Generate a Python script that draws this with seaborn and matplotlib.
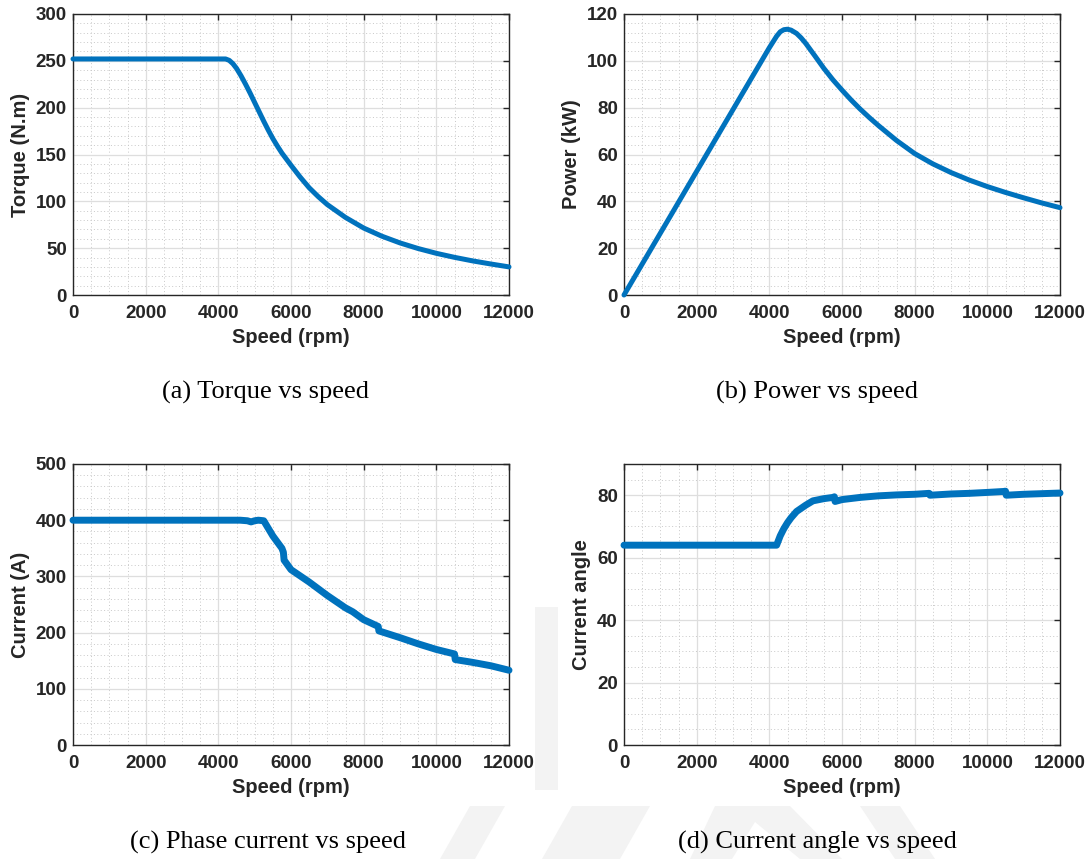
import matplotlib
matplotlib.use("Agg")
import matplotlib.pyplot as plt
from matplotlib.ticker import MultipleLocator
from matplotlib.patches import Polygon
import seaborn as sns

# ---- data -------------------------------------------------------------
speed_torque = [0, 1000, 2000, 3000, 4000, 4200, 4300, 4400, 4500, 4625, 4750,
                4875, 5000, 5125, 5250, 5375, 5500, 5625, 5750, 6000, 6250,
                6500, 6750, 7000, 7500, 8000, 8500, 9000, 9500, 10000, 10500,
                11000, 11500, 12000]
torque_nm = [252, 252, 252, 252, 252, 252, 250.5, 247, 242, 234, 225,
             215.5, 205.5, 195.5, 185.5, 176, 167, 159, 151.5, 138.5, 126,
             114.5, 105, 96.5, 82.8, 71.5, 62.8, 55.6, 49.6, 44.5, 40.2,
             36.4, 33.1, 30]

speed_power = [0, 1000, 2000, 3000, 4000, 4200, 4300, 4400, 4500, 4600, 4750,
               4875, 5000, 5250, 5500, 5750, 6000, 6250, 6500, 6750, 7000,
               7500, 8000, 8500, 9000, 9500, 10000, 10500, 11000, 11500, 12000]
power_kw = [0, 26.4, 52.8, 79.2, 105.6, 110.5, 112.4, 113.3, 113.5, 113.1, 111.7,
            109.8, 107.5, 102.2, 96.8, 91.9, 87.5, 83.3, 79.4, 75.8, 72.4,
            66.0, 60.4, 56.0, 52.3, 49.1, 46.3, 43.8, 41.5, 39.3, 37.3]

speed_current = [0, 2000, 4000, 4600, 4800, 4900, 5000, 5100, 5250, 5500, 5750,
                 5790, 5810, 6000, 6500, 7000, 7500, 7700, 8000, 8400, 8420,
                 9000, 9500, 10000, 10500, 10520, 11000, 11500, 12000]
current_a = [400, 400, 400, 400, 399, 397, 399, 400, 399, 372, 350,
             343, 329, 312, 290, 266, 244, 237, 223, 211, 203,
             191, 180, 170, 162, 152, 147, 141, 133]

speed_angle = [0, 2000, 4000, 4200, 4300, 4400, 4500, 4600, 4750, 5000, 5200,
               5500, 5750, 5790, 5810, 6000, 6500, 7000, 7500, 8000, 8400,
               8420, 9000, 9500, 10000, 10450, 10500, 10520, 11000, 11500, 12000]
angle_deg = [64, 64, 64, 64, 67, 69.3, 71.2, 72.8, 74.8, 76.8, 78.2,
             78.9, 79.3, 79.5, 78, 78.6, 79.3, 79.8, 80.1, 80.3, 80.6,
             80, 80.4, 80.6, 80.9, 81.2, 81.3, 80.0, 80.3, 80.5, 80.7]

captions = ["(a) Torque vs speed", "(b) Power vs speed",
            "(c) Phase current vs speed", "(d) Current angle vs speed"]
y_labels = ["Torque (N.m)", "Power (kW)", "Current (A)", "Current angle"]
x_label = "Speed (rpm)"
x_ticks = [0, 2000, 4000, 6000, 8000, 10000, 12000]

# ---- style ------------------------------------------------------------
sns.set_theme(style="white")
plt.rcParams["font.family"] = ["Liberation Sans", "DejaVu Sans"]
TEXT = "#262626"
BLUE = "#0072BD"

W, H = 1088, 859
fig = plt.figure(figsize=(W / 100, H / 100), dpi=100)
fig.patch.set_facecolor("white")


def px_box(left, top, right, bottom):
    return [left / W, 1 - bottom / H, (right - left) / W, (bottom - top) / H]


# faint background watermark bands
wm = "#f3f3f3"
for poly in [
    [(535, 607), (558, 607), (558, 790), (535, 790)],
    [(470, 806), (505, 806), (475, 859), (440, 859)],
    [(572, 806), (650, 806), (620, 859), (542, 859)],
    [(715, 806), (790, 806), (842, 859), (800, 859), (755, 822), (732, 859), (690, 859)],
    [(860, 806), (900, 806), (935, 859), (895, 859)],
]:
    fig.patches.append(Polygon([(x / W, 1 - y / H) for x, y in poly], closed=True,
                               transform=fig.transFigure, facecolor=wm,
                               edgecolor="none", zorder=0))

panels = [
    dict(box=px_box(73, 14, 509, 295), x=speed_torque, y=torque_nm, ylim=(0, 300),
         ymaj=50, ymin=10, lw=3.6),
    dict(box=px_box(624, 14, 1060, 295), x=speed_power, y=power_kw, ylim=(0, 120),
         ymaj=20, ymin=4, lw=3.6),
    dict(box=px_box(73, 464, 509, 745), x=speed_current, y=current_a, ylim=(0, 500),
         ymaj=100, ymin=20, lw=5.0),
    dict(box=px_box(624, 464, 1060, 745), x=speed_angle, y=angle_deg, ylim=(0, 90),
         ymaj=20, ymin=5, lw=5.0),
]

for i, p in enumerate(panels):
    ax = fig.add_axes(p["box"])
    ax.set_facecolor("white")
    sns.lineplot(x=p["x"], y=p["y"], ax=ax, color=BLUE, linewidth=p["lw"],
                 sort=False, estimator=None, solid_capstyle="round",
                 solid_joinstyle="round", clip_on=False, zorder=3)
    ax.set_xlim(0, 12000)
    ax.set_ylim(*p["ylim"])
    ax.set_xticks(x_ticks)
    ax.yaxis.set_major_locator(MultipleLocator(p["ymaj"]))
    ax.xaxis.set_minor_locator(MultipleLocator(500))
    ax.yaxis.set_minor_locator(MultipleLocator(p["ymin"]))
    ax.set_axisbelow(True)
    ax.grid(True, which="major", color="#dedede", linewidth=0.9, linestyle="-")
    ax.grid(True, which="minor", color="#c8c8c8", linewidth=0.7,
            linestyle=(0, (1, 2.5)))
    ax.tick_params(which="major", direction="in", length=4.5, width=1.0,
                   color=TEXT, top=True, right=True, labelsize=13.5,
                   labelcolor=TEXT)
    ax.tick_params(axis="x", which="major", pad=7.5)
    ax.tick_params(axis="y", which="major", pad=4.5)
    ax.tick_params(which="minor", length=0)
    for lab in ax.get_xticklabels() + ax.get_yticklabels():
        lab.set_fontweight("bold")
    for s in ax.spines.values():
        s.set_color(TEXT)
        s.set_linewidth(1.0)
    ax.set_xlabel(x_label, fontsize=14.5, fontweight="bold", color=TEXT, labelpad=4)
    ax.set_ylabel(y_labels[i], fontsize=14.5, fontweight="bold", color=TEXT, labelpad=4)

cap_pos = [(266, 392), (817, 392), (268, 842), (817, 842)]
for (cx, cy), text in zip(cap_pos, captions):
    fig.text(cx / W, 1 - cy / H, text, ha="center", va="center", fontsize=19,
             family=["Liberation Serif", "DejaVu Serif"], color="black")

fig.savefig("out.png", dpi=100, facecolor="white")
